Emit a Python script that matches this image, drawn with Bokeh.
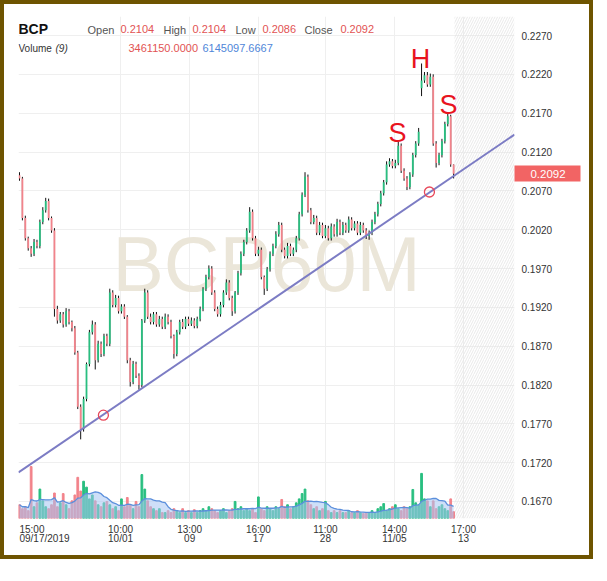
import numpy as np
import pandas as pd
from bokeh.plotting import figure
from bokeh.models import Range1d, FixedTicker, PrintfTickFormatter, Label
from bokeh.core.properties import value
from bokeh.embed import file_html
from bokeh.resources import INLINE

symbol = "BCP"
watermark = "BCP60M"

# hourly closes (x 1e-4)
closes_e4 = [2086, 2035, 2009, 1996, 1989, 2004, 1999, 2030, 2045, 2057,
             2035, 2019, 1918, 1903, 1911, 1898, 1915, 1901, 1893, 1862,
             1792, 1763, 1802, 1847, 1888, 1898, 1852, 1873, 1860, 1883,
             1873, 1939, 1923, 1932, 1915, 1921, 1908, 1852, 1824, 1847,
             1832, 1820, 1903, 1939, 1908, 1901, 1911, 1898, 1905, 1895,
             1908, 1901, 1883, 1860, 1888, 1901, 1895, 1905, 1899, 1903,
             1896, 1905, 1918, 1944, 1959, 1970, 1939, 1918, 1911, 1923,
             1939, 1952, 1932, 1915, 1939, 1964, 1989, 2004, 2019, 2043,
             2009, 1989, 1994, 1959, 1944, 1969, 1989, 1999, 2014, 2026,
             1994, 1986, 1999, 1989, 1994, 2009, 2040, 2065, 2088, 2045,
             2030, 2035, 2016, 2026, 2012, 2022, 2009, 2024, 2014, 2030,
             2016, 2026, 2019, 2033, 2022, 2028, 2016, 2026, 2019, 2012,
             2016, 2030, 2040, 2053, 2067, 2081, 2104, 2108, 2102, 2106,
             2128, 2096, 2086, 2075, 2091, 2116, 2131, 2146, 2212, 2219,
             2207, 2217, 2131, 2106, 2116, 2134, 2156, 2166, 2104, 2092]
first_open_e4 = 2090
gap_opens_e4 = {138: 2202}
upper_wick_e4 = [4, 2, 3, 2, 3, 4, 3, 3, 4, 4,
                 3, 2, 3, 4, 3, 3, 4, 3, 2, 3,
                 2, 3, 3, 2, 3, 5, 3, 4, 3, 3,
                 3, 5, 3, 4, 3, 3, 3, 2, 3, 4,
                 3, 3, 2, 5, 3, 4, 3, 3, 4, 3,
                 4, 3, 3, 2, 3, 3, 4, 3, 3, 4,
                 3, 3, 3, 2, 3, 4, 3, 3, 3, 4,
                 3, 4, 3, 3, 2, 3, 3, 3, 3, 6,
                 3, 3, 4, 3, 2, 3, 3, 3, 4, 4,
                 3, 3, 4, 3, 3, 3, 3, 3, 6, 3,
                 3, 4, 3, 4, 3, 4, 3, 4, 3, 4,
                 3, 4, 3, 4, 3, 3, 3, 4, 3, 3,
                 3, 3, 3, 3, 3, 3, 4, 4, 3, 4,
                 6, 3, 3, 3, 3, 3, 3, 5, 22, 4,
                 4, 4, 3, 3, 3, 3, 3, 3, 2, 0]
lower_wick_e4 = [3, 3, 3, 3, 4, 3, 3, 3, 3, 3,
                 3, 3, 10, 4, 3, 4, 3, 3, 4, 3,
                 3, 13, 3, 3, 3, 3, 12, 3, 4, 3,
                 3, 3, 3, 3, 3, 3, 3, 4, 6, 3,
                 3, 6, 3, 3, 3, 3, 3, 3, 3, 3,
                 3, 3, 3, 6, 3, 3, 3, 3, 3, 3,
                 3, 3, 3, 3, 3, 3, 3, 3, 3, 3,
                 3, 3, 3, 6, 3, 3, 3, 3, 3, 3,
                 3, 3, 3, 3, 8, 3, 3, 3, 3, 3,
                 3, 3, 3, 3, 3, 3, 3, 3, 3, 3,
                 3, 3, 3, 3, 3, 3, 3, 3, 3, 3,
                 3, 3, 3, 3, 3, 3, 3, 3, 3, 4,
                 5, 3, 3, 3, 3, 3, 3, 3, 3, 3,
                 3, 3, 3, 4, 3, 3, 3, 3, 10, 3,
                 3, 3, 3, 6, 3, 3, 3, 3, 3, 6]
# volume in millions
volumes_m = [7, 5, 6, 4, 26.5, 6, 8, 15, 9, 6,
             5, 7, 13, 6, 8, 12.7, 7, 5, 9, 12,
             21, 14, 19, 16, 10, 12, 9, 7, 6, 8,
             8.7, 7, 5, 6, 4, 10, 6, 10.7, 7, 5,
             8.7, 6, 22.4, 15, 9, 6, 5, 4, 5, 3,
             3, 4, 3, 5, 4, 3, 5, 3, 4, 3,
             4.5, 3, 4, 5, 4, 6, 5, 4, 3, 4,
             5, 3, 4, 5, 8.7, 5, 6, 4, 5, 4,
             5, 3, 11, 5, 4, 6, 5, 4, 6, 5,
             9.7, 6, 7, 5, 6, 8, 10, 12.7, 15, 9,
             7, 5, 6, 4, 5, 8.7, 4, 3, 4, 3,
             4, 3, 3, 4, 3, 3, 4, 3, 2.5, 3,
             3, 4, 3, 5, 6, 7.6, 4, 5, 6, 7,
             5, 4, 6, 5, 6, 14.8, 8, 7, 23, 10,
             9, 6, 9, 5, 6, 7, 5, 4, 10, 3.46]

price_ticks = [0.1670, 0.1720, 0.1770, 0.1820, 0.1870, 0.1920,
               0.1970, 0.2020, 0.2070, 0.2120, 0.2170, 0.2220, 0.2270]
NB = "\u00a0"
first_tick_pos = 8.58
time_tick_pos = [34.7, 58.4, 82.0, 105.0, 128.7, 152.4]
time_tick_labels = ["10:00\n10/01", "13:00\n09", "16:00\n17",
                    "11:00\n28", "14:00\n11/05", "17:00\n13"]
first_tick_label = "15:00" + NB * 9 + "\n09/17/2019"

trend_x = [-0.34, 169.9]
trend_y = [0.17074, 0.21425]
touch_x = [28.8, 140.7]
touch_y = [0.17812, 0.20685]

hdr_open, hdr_high, hdr_low, hdr_close = "0.2104", "0.2104", "0.2086", "0.2092"
hdr_vol, hdr_vol_ma = "3461150.0000", "6145097.6667"
last_price = 0.2092

# ---------------------------------------------------------------
n = len(closes_e4)
idx = np.arange(n)
closes = np.array(closes_e4) / 1e4
opens_e4 = [first_open_e4] + closes_e4[:-1]
for k, v in gap_opens_e4.items():
    opens_e4[k] = v
opens = np.array(opens_e4) / 1e4
highs = np.maximum(opens, closes) + np.array(upper_wick_e4) / 1e4
lows = np.minimum(opens, closes) - np.array(lower_wick_e4) / 1e4
rising = closes >= opens
UP, DOWN = "#29bf80", "#f2838b"
colors = [UP if r else DOWN for r in rising]
vols = np.array(volumes_m)
ma = pd.Series(vols).rolling(9, min_periods=1).mean().values

x_lo, x_hi = -0.34, 169.9
y_lo, y_hi = 0.16481, 0.22945
FONT = "Liberation Sans"
TAG_RED = "#f26464"

p = figure(width=593, height=559, output_backend="svg", toolbar_location=None,
           x_range=Range1d(x_lo, x_hi), y_range=Range1d(y_lo, y_hi),
           y_axis_location="right", min_border_left=14, min_border_right=83,
           min_border_top=12, min_border_bottom=45)
p.styles = {"border": "4px solid #6e5400"}
p.outline_line_color = None
p.background_fill_color = "white"
p.border_fill_color = "white"
p.extra_y_ranges = {"vol": Range1d(0, 256)}

# price axis; its single minor tick is drawn as the last-price tag bar
p.yaxis.ticker = FixedTicker(ticks=price_ticks, minor_ticks=[last_price])
p.yaxis.formatter = PrintfTickFormatter(format="%.4f")
p.yaxis.minor_tick_line_color = TAG_RED
p.yaxis.minor_tick_line_width = 16
p.yaxis.minor_tick_out = 0
p.yaxis.minor_tick_in = -66
p.yaxis.major_label_standoff = 7

# time axis
all_pos = [first_tick_pos] + time_tick_pos
all_lab = [first_tick_label] + time_tick_labels
p.xaxis.ticker = FixedTicker(ticks=all_pos)
p.xaxis.major_label_overrides = dict(zip(all_pos, all_lab))
p.xaxis.major_label_standoff = 5
p.xaxis.minor_tick_line_color = None
p.xaxis.major_label_text_line_height = 0.9

for ax in (p.xaxis, p.yaxis):
    ax.axis_line_color = None
    ax.major_tick_line_color = None
    ax.major_tick_out = 0
    ax.major_tick_in = 0
    ax.major_label_text_font = FONT
    ax.major_label_text_font_size = "10px"
    ax.major_label_text_color = "#333333"

p.xgrid.ticker = FixedTicker(ticks=time_tick_pos)
p.xgrid.grid_line_color = "#efefef"
p.ygrid.ticker = FixedTicker(ticks=price_ticks)
p.ygrid.grid_line_color = "#efefef"

# future (hatched) zone
p.quad(left=[149.3], right=[x_hi], bottom=[y_lo], top=[y_hi], fill_color=None,
       line_color=None, hatch_pattern="/", hatch_color="#e3e3e3",
       hatch_scale=5, hatch_weight=0.8)

# watermark
p.text(x=[84.8], y=[0.19752], text=[watermark], text_font=value(FONT),
       text_font_size="77px", text_color="#ebe6d9", text_align="center",
       text_baseline="middle")

# volume
p.vbar(x=idx, top=vols, bottom=0, width=0.6, color=colors, y_range_name="vol")
p.varea(x=idx, y1=np.zeros(n), y2=ma, fill_color="#a6c4f2", fill_alpha=0.55,
        y_range_name="vol")
p.line(idx, ma, line_color="#5b8fdc", line_width=1.3, y_range_name="vol")

# candles
p.segment(x0=idx, y0=lows, x1=idx, y1=highs, line_color="#111111", line_width=1)
p.vbar(x=idx, bottom=np.minimum(opens, closes), top=np.maximum(opens, closes),
       width=0.62, fill_color=colors, line_color=None)

# trend line + touch points
p.line(trend_x, trend_y, line_color="#7c7cc4", line_width=2)
p.scatter(touch_x, touch_y, size=10, marker="circle", fill_color=None,
          line_color="#e8485a", line_width=1.3)

def px_x(px):
    return (px - 23) / 2.914

def px_y(py):
    return 0.2270 - (py - 39) / 7767.0

def mk(x, y, text, color, size="11px", style="normal", align="left"):
    return Label(x=x, y=y, text=text, text_color=color,
                 text_font=FONT, text_font_size=size, text_font_style=style,
                 text_baseline="middle", text_align=align)

RED, GREY, BLUE = "#e25353", "#555555", "#4f86d9"
hdr = [(22, 32, symbol, "#111111", "14px", "bold"),
       (91, 33, "Open", GREY, "11px", "normal"),
       (124, 32, hdr_open, RED, "11px", "normal"),
       (167, 33, "High", GREY, "11px", "normal"),
       (196, 32, hdr_high, RED, "11px", "normal"),
       (239, 33, "Low", GREY, "11px", "normal"),
       (266, 32, hdr_low, RED, "11px", "normal"),
       (308, 33, "Close", GREY, "11px", "normal"),
       (344, 32, hdr_close, RED, "11px", "normal"),
       (22, 52, "Volume", "#333333", "10px", "normal"),
       (59, 52, "(9)", "#333333", "10px", "italic"),
       (132, 51, hdr_vol, RED, "11px", "normal"),
       (206, 51, hdr_vol_ma, BLUE, "11px", "normal")]
for (px, py, t, c, s, st) in hdr:
    p.add_layout(mk(px_x(px), px_y(py), t, c, size=s, style=st))

# hand-drawn pattern marks
HRED = "#e8141e"
for (px, py, t) in [(401, 136, "S"), (424, 62, "H"), (452, 108, "S")]:
    p.add_layout(mk(px_x(px), px_y(py), t, HRED, size="27px", align="center"))

# last price text over the tag bar (right margin)
p.add_layout(mk(px_x(534), last_price, f"{last_price:.4f}", "white",
                size="11.5px"), "right")

open("out.html", "w").write(file_html(p, INLINE))
